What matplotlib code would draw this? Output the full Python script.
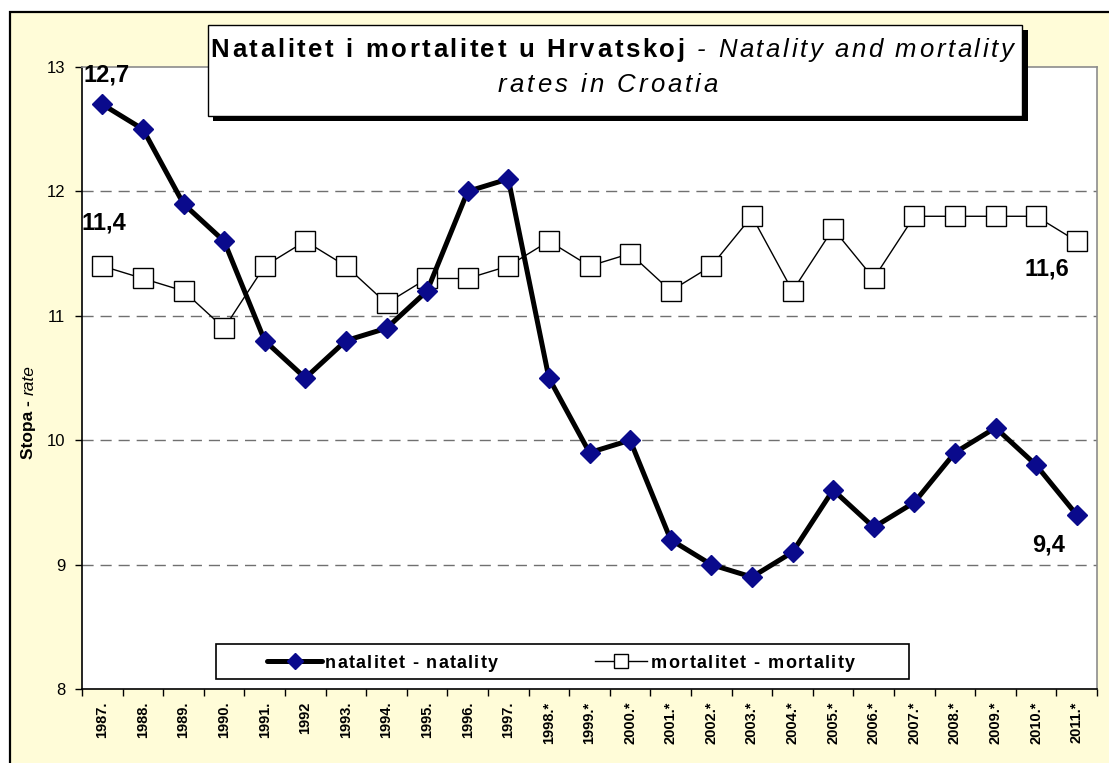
import matplotlib
matplotlib.use("Agg")
import matplotlib.pyplot as plt
from matplotlib.patches import Rectangle
from matplotlib.lines import Line2D

plt.rcParams['font.family'] = ['Liberation Sans', 'DejaVu Sans']

# data
years = ["1987.", "1988.", "1989.", "1990.", "1991.", "1992", "1993.", "1994.", "1995.",
         "1996.", "1997.", "1998.*", "1999.*", "2000.*", "2001.*", "2002.*", "2003.*",
         "2004.*", "2005.*", "2006.*", "2007.*", "2008.*", "2009.*", "2010.*", "2011.*"]
natality = [12.7, 12.5, 11.9, 11.6, 10.8, 10.5, 10.8, 10.9, 11.2, 12.0, 12.1, 10.5, 9.9,
            10.0, 9.2, 9.0, 8.9, 9.1, 9.6, 9.3, 9.5, 9.9, 10.1, 9.8, 9.4]
mortality = [11.4, 11.3, 11.2, 10.9, 11.4, 11.6, 11.4, 11.1, 11.3, 11.3, 11.4, 11.6, 11.4,
             11.5, 11.2, 11.4, 11.8, 11.2, 11.7, 11.3, 11.8, 11.8, 11.8, 11.8, 11.6]
nat_label = 'natalitet - natality'
mort_label = 'mortalitet - mortality'

NAVY = '#0A0A8C'
W, H = 1109, 763
def fx(x):
    return x / W
def fy(y):
    return 1 - y / H

fig = plt.figure(figsize=(W / 100, H / 100), dpi=100, facecolor='white')
fig.canvas.draw()
r = fig.canvas.get_renderer()

def width(s, **kw):
    t = fig.text(0, 0, s + '|', **kw)
    w = t.get_window_extent(r).width
    t.remove()
    t = fig.text(0, 0, '|', **kw)
    w -= t.get_window_extent(r).width
    t.remove()
    return w

def tracked(x, y, parts, track, center=True, z=7):
    # parts: list of (string, font kwargs); y is the baseline in pixels
    n = sum(len(s) for s, kw in parts)
    total = sum(width(s, **kw) for s, kw in parts) + track * (n - 1)
    start = x - total / 2 if center else x
    off = 0
    k = 0
    for s, kw in parts:
        for i, ch in enumerate(s):
            if ch != ' ':
                xx = start + off + width(s[:i], **kw) + track * k
                fig.text(fx(xx), fy(y), ch, ha='left', va='baseline', zorder=z, **kw)
            k += 1
        off += width(s, **kw)

# yellow chart area with black border
bg = Rectangle((fx(10), fy(H + 20)), fx(W + 20 - 10), (H + 20 - 12) / H,
               transform=fig.transFigure, facecolor='#FFFCD8', edgecolor='black',
               linewidth=1.6, zorder=-10)
fig.add_artist(bg)

ax = fig.add_axes([fx(82), fy(689), fx(1097 - 82), (689 - 67) / H])
ax.set_facecolor('white')

x = list(range(len(years)))
ax.plot(x, mortality, color='black', linewidth=1, marker='s', markersize=14.5,
        markerfacecolor='white', markeredgecolor='black', markeredgewidth=1, zorder=3)
ax.plot(x, natality, color='black', linewidth=3.6, marker='D', markersize=10,
        markerfacecolor=NAVY, markeredgecolor=NAVY, zorder=4)

ax.set_xlim(-0.5, len(years) - 0.5)
ax.set_ylim(8, 13)
ax.set_yticks([8, 9, 10, 11, 12, 13])
ax.set_yticklabels(['8', '9', '10', '11', '12', '13'], fontsize=12)
ax.tick_params(axis='y', direction='out', length=5, width=1, pad=7)
ax.set_xticks(x)
ax.set_xticklabels(years, rotation=90, fontsize=10.5, fontweight='bold')
ax.tick_params(axis='x', which='major', length=0, pad=9)
ax.set_xticks([i - 0.5 for i in range(len(years) + 1)], minor=True)
ax.tick_params(axis='x', which='minor', direction='out', length=5, width=1)

for yv in [9, 10, 11, 12]:
    ax.axhline(yv, color='#707070', linewidth=1, linestyle=(0, (8, 5)), zorder=1)

ax.spines['left'].set_color('black')
ax.spines['bottom'].set_color('black')
ax.spines['top'].set_color('#8C8C8C')
ax.spines['right'].set_color('#8C8C8C')
for s in ax.spines.values():
    s.set_linewidth(1.2)

# end labels
lab = dict(ha='center', va='center', fontsize=17, fontweight='bold',
           textcoords='offset pixels')
ax.annotate('12,7', (0, natality[0]), xytext=(4, 29), **lab)
ax.annotate('11,4', (0, mortality[0]), xytext=(2, 43), **lab)
ax.annotate('11,6', (24, mortality[-1]), xytext=(-30, -28), **lab)
ax.annotate('9,4', (24, natality[-1]), xytext=(-28, -30), **lab)

# legend drawn by hand to match the spaced lettering
lg_frame = Rectangle((fx(216), fy(679)), fx(909 - 216), (679 - 644) / H,
                     transform=fig.transFigure, facecolor='white', edgecolor='black',
                     linewidth=1.2, zorder=5)
fig.add_artist(lg_frame)
fig.add_artist(Line2D([fx(267), fx(322)], [fy(661), fy(661)], transform=fig.transFigure,
                      color='black', linewidth=3.6, solid_capstyle='round', zorder=6))
fig.add_artist(Line2D([fx(294.5)], [fy(661)], transform=fig.transFigure, marker='D',
                      markersize=7.7, color=NAVY, zorder=7))
fig.add_artist(Line2D([fx(595), fx(647)], [fy(661), fy(661)], transform=fig.transFigure,
                      color='black', linewidth=1, zorder=6))
fig.add_artist(Line2D([fx(621)], [fy(661)], transform=fig.transFigure, marker='s',
                      markersize=10, markerfacecolor='white', markeredgecolor='black',
                      markeredgewidth=1, zorder=7))
lgkw = dict(fontsize=13, fontweight='bold')
tracked(325, 668, [(nat_label, lgkw)], 1.3, center=False)
tracked(651, 668, [(mort_label, lgkw)], 1.4, center=False)

# title box with shadow
shadow = Rectangle((fx(213), fy(121)), fx(1028 - 213), (121 - 30) / H,
                   transform=fig.transFigure, facecolor='black', edgecolor='black',
                   linewidth=0, zorder=5)
box = Rectangle((fx(208), fy(116)), fx(1022 - 208), (116 - 25) / H,
                transform=fig.transFigure, facecolor='white', edgecolor='black',
                linewidth=1, zorder=6)
fig.add_artist(shadow)
fig.add_artist(box)

tb = dict(fontsize=18.5, fontweight='bold')
ti = dict(fontsize=18.5, fontstyle='italic')
tracked(612, 57, [('Natalitet i mortalitet u Hrvatskoj', tb),
                  (' - Natality and mortality', ti)], 2.6)
tracked(608, 92, [('rates in Croatia', ti)], 3.0)

# y label: bold + italic parts
y1 = fig.text(fx(29), fy(459), 'Stopa - ', fontsize=12.5, fontweight='bold',
              rotation=90, ha='center', va='bottom')
h_y1 = y1.get_window_extent(r).height
fig.text(fx(29), fy(459 - h_y1), 'rate', fontsize=12.5, fontstyle='italic',
         rotation=90, ha='center', va='bottom')

fig.savefig('out.png', dpi=100, facecolor='white')
